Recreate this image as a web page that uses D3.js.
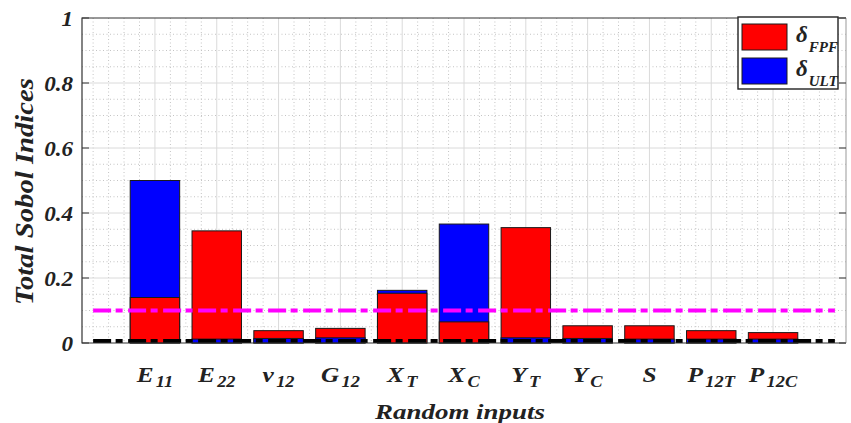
<!DOCTYPE html>
<html><head><meta charset="utf-8">
<script src="https://cdn.jsdelivr.net/npm/d3@7"></script>
<style>body{margin:0;background:#fff} svg{display:block}</style>
</head><body><svg id="c" width="851" height="423"></svg>
<script>
const categories = ["E11","E22","ν12","G12","XT","XC","YT","YC","S","P12T","P12C"];
const labelMain = ["E","E","ν","G","X","X","Y","Y","S","P","P"];
const labelSub = ["11","22","12","12","T","C","T","C","","12T","12C"];
const fpf = [0.14,0.345,0.038,0.045,0.153,0.065,0.355,0.053,0.053,0.038,0.032];
const ult = [0.5,0.012,0.014,0.016,0.162,0.366,0.016,0.014,0.012,0.012,0.012];
const yTicks = [0,0.2,0.4,0.6,0.8,1];
const yTickLabels = ["0","0.2","0.4","0.6","0.8","1"];
const thresholdHigh = 0.1;
const thresholdLow = 0.006;
const seriesNames = ["FPF","ULT"];
const seriesColors = ["#ff0000","#0000ff"];

const FONT = "Liberation Serif";
const svg = d3.select("#c");
function tx(sel) {
  return sel.attr("font-family", FONT).attr("font-weight", "bold").attr("font-style", "italic").attr("fill", "#222");
}
const L = 82, R = 846, T = 18, B = 343;
const x = d3.scaleLinear().domain([-0.18, 12.18]).range([L, R]);
const y = d3.scaleLinear().domain([0, 1]).range([B, T]);
const barW = x(0.8) - x(0);

// grid
const g = svg.append("g");
const minorX = d3.range(0, 12.001, 0.25).filter(v => Math.abs(v - Math.round(v)) > 1e-6 || v === 0 || v === 12);
const minorY = d3.range(0.05, 1, 0.05).filter(v => Math.abs(v / 0.2 - Math.round(v / 0.2)) > 1e-6);
g.selectAll(".mx").data(minorX).join("line")
  .attr("x1", d => x(d)).attr("x2", d => x(d)).attr("y1", T).attr("y2", B)
  .attr("stroke", "#c4c4c4").attr("stroke-width", 1).attr("stroke-dasharray", "1,2.5");
g.selectAll(".my").data(minorY).join("line")
  .attr("x1", L).attr("x2", R).attr("y1", d => y(d)).attr("y2", d => y(d))
  .attr("stroke", "#c4c4c4").attr("stroke-width", 1).attr("stroke-dasharray", "1,2.5");
g.selectAll(".Mx").data(d3.range(1, categories.length + 1)).join("line")
  .attr("x1", d => x(d)).attr("x2", d => x(d)).attr("y1", T).attr("y2", B)
  .attr("stroke", "#dadada").attr("stroke-width", 1);
g.selectAll(".My").data(yTicks.filter(v => v > 0 && v < 1)).join("line")
  .attr("x1", L).attr("x2", R).attr("y1", d => y(d)).attr("y2", d => y(d))
  .attr("stroke", "#dadada").attr("stroke-width", 1);

// bars: larger drawn first, smaller in front
const bars = [];
categories.forEach((c, i) => {
  const items = [{s: 0, v: fpf[i]}, {s: 1, v: ult[i]}].sort((a, b) => b.v - a.v);
  items.forEach(it => bars.push({i: i, s: it.s, v: it.v}));
});
svg.append("g").selectAll("rect").data(bars).join("rect")
  .attr("x", d => x(d.i + 1) - barW / 2).attr("width", barW)
  .attr("y", d => y(d.v)).attr("height", d => y(0) - y(d.v))
  .attr("fill", d => seriesColors[d.s]).attr("stroke", "#1a1a1a").attr("stroke-width", 1);

// threshold lines
[[thresholdHigh, "#ff00ff"], [thresholdLow, "#000000"]].forEach(([v, col]) => {
  svg.append("line").attr("x1", x(0)).attr("x2", x(12)).attr("y1", y(v)).attr("y2", y(v))
    .attr("stroke", col).attr("stroke-width", 4).attr("stroke-dasharray", "18,4.5,7,5.5");
});

// axes box
svg.append("path").attr("d", `M${R},${T}H${L}V${B}H${R}`).attr("fill", "none").attr("stroke", "#333").attr("stroke-width", 1.2);
svg.append("line").attr("x1", R).attr("x2", R).attr("y1", T).attr("y2", B).attr("stroke", "#999").attr("stroke-width", 1);
svg.selectAll(".yt").data(yTicks).join("line").attr("class", "yt")
  .attr("x1", L).attr("x2", L + 7).attr("y1", d => y(d)).attr("y2", d => y(d)).attr("stroke", "#333");
svg.selectAll(".ytr").data(yTicks).join("line").attr("class", "ytr")
  .attr("x1", R - 7).attr("x2", R).attr("y1", d => y(d)).attr("y2", d => y(d)).attr("stroke", "#333");

// y tick labels
tx(svg.selectAll(".yl").data(yTicks).join("text"))
  .attr("transform", d => `translate(73,${y(d) + 1}) scale(1.1,1)`)
  .attr("text-anchor", "end").attr("dominant-baseline", "central")
  .attr("font-size", 21)
  .text((d, i) => yTickLabels[i]);

// x tick labels
const xl = tx(svg.selectAll(".xl").data(categories).join("text"))
  .attr("transform", (d, i) => `translate(${x(i + 1)},382) scale(1.15,1)`)
  .attr("text-anchor", "middle");
xl.append("tspan").attr("font-size", 22).text((d, i) => labelMain[i]);
xl.append("tspan").attr("font-size", 16).attr("dx", 2).attr("dy", 5).text((d, i) => labelSub[i]);

// axis titles
tx(svg.append("text")).attr("transform", "translate(33,191.5) rotate(-90)")
  .attr("text-anchor", "middle").attr("textLength", 227).attr("lengthAdjust", "spacingAndGlyphs")
  .attr("font-size", 26).text("Total Sobol Indices");
tx(svg.append("text")).attr("x", 460).attr("y", 419)
  .attr("text-anchor", "middle").attr("textLength", 170).attr("lengthAdjust", "spacingAndGlyphs")
  .attr("font-size", 22).text("Random inputs");

// legend
const lg = svg.append("g");
lg.append("rect").attr("x", 738).attr("y", 17).attr("width", 100).attr("height", 72)
  .attr("fill", "#fff").attr("stroke", "#222").attr("stroke-width", 1.4);
seriesNames.forEach((n, k) => {
  const yy = 24 + k * 34;
  lg.append("rect").attr("x", 742).attr("y", yy).attr("width", 45).attr("height", 26)
    .attr("fill", seriesColors[k]).attr("stroke", "#1a1a1a").attr("stroke-width", 1);
  const t = tx(lg.append("text")).attr("x", 796).attr("y", yy + 18);
  t.append("tspan").attr("font-size", 23).text("δ");
  t.append("tspan").attr("font-size", 15).attr("dy", 10).attr("dx", 1).text(n);
});
</script></body></html>
